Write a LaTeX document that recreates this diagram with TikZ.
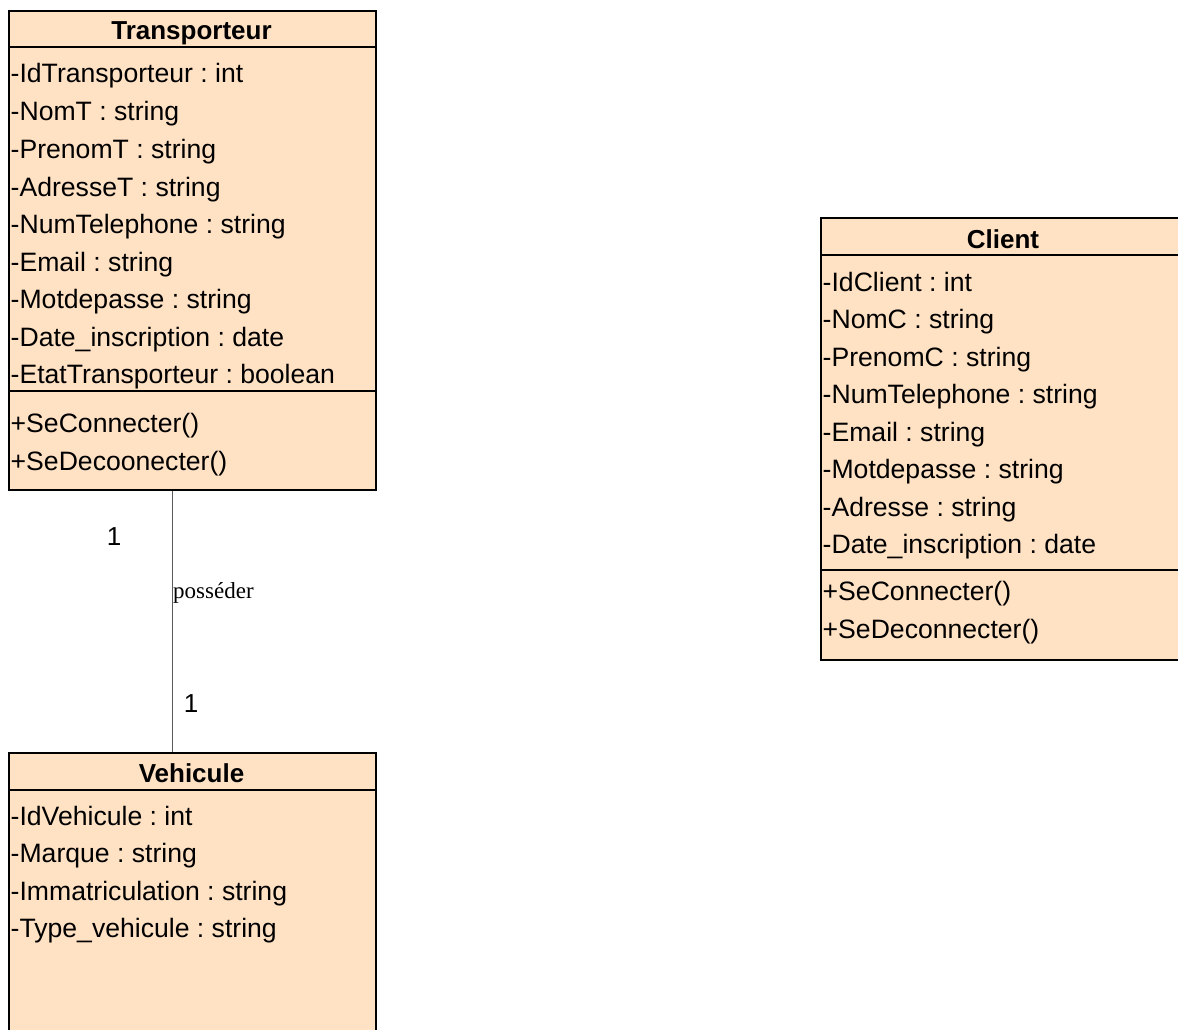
\documentclass[tikz,border=0pt]{standalone}
\usepackage{fontspec}
\setmainfont{Liberation Sans}
\newfontfamily\serifface{Liberation Serif}
\frenchspacing
\definecolor{classfill}{RGB}{255,225,196}
\definecolor{linkgray}{RGB}{90,90,90}
\begin{document}
\begin{tikzpicture}[x=1pt,y=-1pt,
  classbox/.style={draw=black, fill=classfill, line width=2pt, rectangle,
    anchor=north west, inner sep=0pt},
  sepline/.style={draw=black, line width=2pt},
  head/.style={font=\fontsize{26}{30}\selectfont\bfseries, inner sep=0pt, anchor=base},
  attr/.style={font=\fontsize{26.6}{31}\selectfont, inner sep=0pt, anchor=base west},
  mult/.style={font=\fontsize{26}{30}\selectfont, inner sep=0pt, anchor=base},
  rolelabel/.style={font=\serifface\fontsize{23}{27}\selectfont, inner sep=0pt, anchor=base west},
  assoc/.style={draw=linkgray, line width=1pt}]
\path[use as bounding box] (0,0) rectangle (1178,1030);
\clip (0,0) rectangle (1178,1030);

% Transporteur class
\node[classbox, minimum width=367pt, minimum height=479pt] (T) at (8,10) {};
\draw[sepline] ([yshift=-37pt]T.north west) -- ([yshift=-37pt]T.north east);
\draw[sepline] ([yshift=-381pt]T.north west) -- ([yshift=-381pt]T.north east);
\node[head] (Th) at (191.5,40) {Transporteur};
\node[attr] (T1) at (10.5,83) {-IdTransporteur : int};
\node[attr] (T2) at (10.5,121) {-NomT : string};
\node[attr] (T3) at (10.5,158) {-PrenomT : string};
\node[attr] (T4) at (10.5,196) {-AdresseT : string};
\node[attr] (T5) at (10.5,233) {-NumTelephone : string};
\node[attr] (T6) at (10.5,271) {-Email : string};
\node[attr] (T7) at (10.5,308) {-Motdepasse : string};
\node[attr] (T8) at (10.5,346) {-Date\_inscription : date};
\node[attr] (T9) at (10.5,383) {-EtatTransporteur : boolean};
\node[attr] (Tm1) at (10.5,432) {+SeConnecter()};
\node[attr] (Tm2) at (10.5,470) {+SeDecoonecter()};

% Vehicule class
\node[classbox, minimum width=367pt, minimum height=330pt] (V) at (8,752) {};
\draw[sepline] ([yshift=-38pt]V.north west) -- ([yshift=-38pt]V.north east);
\node[head] (Vh) at (191.5,782) {Vehicule};
\node[attr] (V1) at (10.5,825) {-IdVehicule : int};
\node[attr] (V2) at (10.5,862) {-Marque : string};
\node[attr] (V3) at (10.5,900) {-Immatriculation : string};
\node[attr] (V4) at (10.5,937) {-Type\_vehicule : string};

% Client class
\node[classbox, minimum width=380pt, minimum height=442pt] (C) at (820,217) {};
\draw[sepline] ([yshift=-38pt]C.north west) -- ([yshift=-38pt]C.north east);
\draw[sepline] ([yshift=-353pt]C.north west) -- ([yshift=-353pt]C.north east);
\node[head] (Ch) at (1003,248) {Client};
\node[attr] (C1) at (822.5,291) {-IdClient : int};
\node[attr] (C2) at (822.5,328) {-NomC : string};
\node[attr] (C3) at (822.5,366) {-PrenomC : string};
\node[attr] (C4) at (822.5,403) {-NumTelephone : string};
\node[attr] (C5) at (822.5,441) {-Email : string};
\node[attr] (C6) at (822.5,478) {-Motdepasse : string};
\node[attr] (C7) at (822.5,516) {-Adresse : string};
\node[attr] (C8) at (822.5,553) {-Date\_inscription : date};
\node[attr] (Cm1) at (822.5,600) {+SeConnecter()};
\node[attr] (Cm2) at (822.5,638) {+SeDeconnecter()};

% association Transporteur -- Vehicule
\draw[assoc] ([xshift=164pt]T.south west) -- ([xshift=164pt]V.north west);
\node[mult] (m1) at (114,545) {1};
\node[rolelabel] (r1) at (173,598) {posséder};
\node[mult] (m2) at (191,712) {1};
\end{tikzpicture}
\end{document}
